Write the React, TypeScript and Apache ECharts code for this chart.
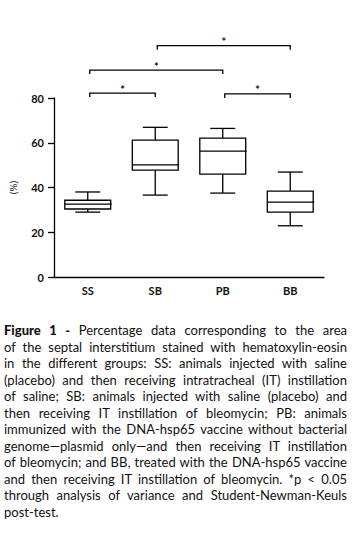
import React, { useEffect, useRef } from "react";
import * as echarts from "echarts";

const categories = ["SS", "SB", "PB", "BB"];
const whiskerMin = [29.0, 36.6, 37.5, 22.9];
const quartile1 = [30.4, 47.8, 46.0, 29.0];
const medians = [32.6, 50.1, 56.3, 33.5];
const quartile3 = [34.3, 61.2, 62.1, 38.4];
const whiskerMax = [38.0, 66.9, 66.4, 46.9];
const yTicks = { min: 0, max: 80, interval: 20 };
const yAxisName = "(%)";
// significance brackets: [fromIndex, toIndex, level in axis units]
const comparisons = [
  [0, 1, 82.2],
  [0, 2, 92.5],
  [1, 3, 103.4],
  [2, 3, 81.8],
];
const significanceMark = "*";

const captionLines = [
  "Percentage data corresponding to the area",
  "of the septal interstitium stained with hematoxylin-eosin",
  "in the different groups: SS: animals injected with saline",
  "(placebo) and then receiving intratracheal (IT) instillation",
  "of saline; SB: animals injected with saline (placebo) and",
  "then receiving IT instillation of bleomycin; PB: animals",
  "immunized with the DNA-hsp65 vaccine without bacterial",
  "genome\u2014plasmid only\u2014and then receiving IT instillation",
  "of bleomycin; and BB, treated with the DNA-hsp65 vaccine",
  "and then receiving IT instillation of bleomycin. *p < 0.05",
  "through analysis of variance and Student-Newman-Keuls",
  "post-test.",
];
const captionTitle = "Figure 1 -";

export default function App() {
  const ref = useRef<HTMLDivElement>(null);

  useEffect(() => {
    if (!ref.current) return;
    const chart = echarts.init(ref.current, null, { renderer: "svg" });
    const boxData = categories.map((c, i) => [
      i,
      whiskerMin[i],
      quartile1[i],
      medians[i],
      quartile3[i],
      whiskerMax[i],
    ]);
    const lw = 1.3;
    const stroke = "#000";
    chart.setOption({
      animation: false,
      grid: { left: 54, top: 98, width: 270, height: 179 },
      xAxis: {
        type: "category",
        data: categories,
        boundaryGap: true,
        axisLine: { lineStyle: { color: stroke, width: lw } },
        axisTick: { alignWithLabel: true, length: 5, lineStyle: { color: stroke, width: lw } },
        axisLabel: {
          margin: 8,
          color: "#111",
          fontFamily: "Lato",
          fontWeight: "bold",
          fontSize: 11,
        },
        splitLine: { show: false },
      },
      yAxis: {
        type: "value",
        min: yTicks.min,
        max: yTicks.max,
        interval: yTicks.interval,
        name: yAxisName,
        nameLocation: "middle",
        nameGap: 36,
        nameTextStyle: { color: "#111", fontFamily: "Lato", fontSize: 10 },
        axisLine: { show: true, lineStyle: { color: stroke, width: lw } },
        axisTick: { show: true, length: 6, lineStyle: { color: stroke, width: lw } },
        axisLabel: {
          margin: 10,
          color: "#111",
          fontFamily: "Lato",
          fontWeight: "bold",
          fontSize: 11,
        },
        splitLine: { show: false },
      },
      series: [
        {
          type: "custom",
          data: boxData,
          encode: { x: 0, y: [1, 2, 3, 4, 5] },
          renderItem: (params: any, api: any) => {
            const x = api.value(0);
            const band = api.size([1, 0])[0];
            const bw = band * 0.68;
            const cw = band * 0.37;
            const pMin = api.coord([x, api.value(1)]);
            const pQ1 = api.coord([x, api.value(2)]);
            const pMed = api.coord([x, api.value(3)]);
            const pQ3 = api.coord([x, api.value(4)]);
            const pMax = api.coord([x, api.value(5)]);
            const cx = pMed[0];
            const ls = { stroke, lineWidth: lw, fill: null };
            return {
              type: "group",
              children: [
                { type: "line", shape: { x1: cx, y1: pQ3[1], x2: cx, y2: pMax[1] }, style: ls },
                { type: "line", shape: { x1: cx - cw / 2, y1: pMax[1], x2: cx + cw / 2, y2: pMax[1] }, style: ls },
                { type: "line", shape: { x1: cx, y1: pQ1[1], x2: cx, y2: pMin[1] }, style: ls },
                { type: "line", shape: { x1: cx - cw / 2, y1: pMin[1], x2: cx + cw / 2, y2: pMin[1] }, style: ls },
                {
                  type: "rect",
                  shape: { x: cx - bw / 2, y: pQ3[1], width: bw, height: pQ1[1] - pQ3[1] },
                  style: { stroke, lineWidth: lw, fill: "#fff" },
                },
                { type: "line", shape: { x1: cx - bw / 2, y1: pMed[1], x2: cx + bw / 2 + 1, y2: pMed[1] }, style: ls },
              ],
            };
          },
        },
        {
          type: "custom",
          data: comparisons,
          clip: false,
          encode: { x: [0, 1], y: 2 },
          renderItem: (params: any, api: any) => {
            const a = api.coord([api.value(0), api.value(2)]);
            const b = api.coord([api.value(1), api.value(2)]);
            const x1 = a[0] + 2;
            const x2 = b[0];
            const y = a[1];
            return {
              type: "group",
              children: [
                {
                  type: "polyline",
                  shape: { points: [[x1, y + 4], [x1, y], [x2, y], [x2, y + 4]] },
                  style: { stroke, lineWidth: lw, fill: null },
                },
                {
                  type: "text",
                  style: {
                    text: significanceMark,
                    x: (x1 + x2) / 2,
                    y: y - 4,
                    align: "center",
                    verticalAlign: "middle",
                    fontSize: 11,
                    fontWeight: "bold",
                    fontFamily: "Lato",
                    fill: "#111",
                  },
                },
              ],
            };
          },
        },
      ],
    });
    return () => chart.dispose();
  }, []);

  return (
    <div style={{ position: "absolute", left: 0, top: 0, width: 352, height: 537, background: "#fff" }}>
      <div ref={ref} style={{ position: "absolute", left: 0, top: 0, width: 352, height: 310 }} />
      <div
        style={{
          position: "absolute",
          left: 4,
          top: 322,
          width: 343,
          fontFamily: "Lato",
          fontSize: 13,
          lineHeight: "16.5px",
          color: "#111",
        }}
      >
        {captionLines.map((line, i) => (
          <div
            key={i}
            style={{
              textAlign: "justify",
              textAlignLast: i < captionLines.length - 1 ? "justify" : "left",
              whiteSpace: "nowrap",
            }}
          >
            {i === 0 ? (
              <>
                <b style={{ fontWeight: 900 }}>{captionTitle}</b> {line}
              </>
            ) : (
              line
            )}
          </div>
        ))}
      </div>
    </div>
  );
}
